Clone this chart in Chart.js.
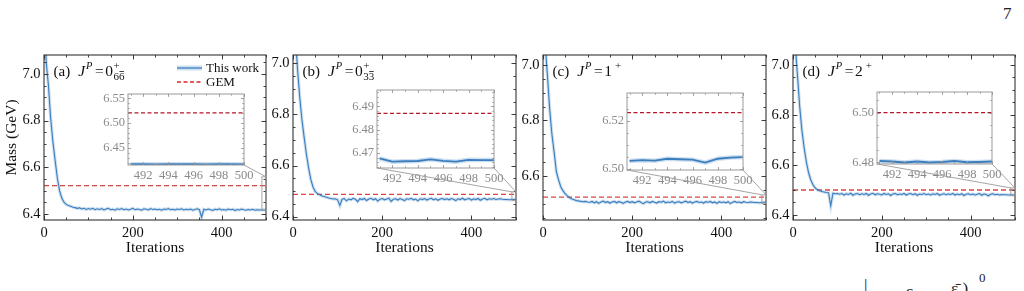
<!DOCTYPE html>
<html>
<head>
<meta charset="utf-8">
<title>Mass vs iterations</title>
<script src="https://cdn.jsdelivr.net/npm/chart.js@4.4.1/dist/chart.umd.min.js"></script>
<style>
  html, body { margin: 0; padding: 0; background: #fff; }
  body { width: 1024px; height: 291px; position: relative; overflow: hidden; font-family: "Liberation Serif", serif; color: #222; }
  canvas { position: absolute; }
  .pg { position: absolute; left: 1003px; top: 4px; font-size: 17px; }
  .tail { position: absolute; font-size: 17px; color: #222; }
</style>
</head>
<body>
<div class="pg">7</div>
<div class="tail" style="left:864px;top:276px">|</div>
<div class="tail" style="left:906px;top:282px">ε</div>
<div class="tail" style="left:951px;top:279px">ε̄ )</div>
<div class="tail" style="left:979px;top:270px;font-size:13px">0</div>
<script>
// iterations sampled every 5 steps
const iterations = [0, 5, 10, 15, 20, 25, 30, 35, 40, 45, 50, 55, 60, 65, 70, 75, 80, 85, 90, 95, 100,
  105, 110, 115, 120, 125, 130, 135, 140, 145, 150, 155, 160, 165, 170, 175, 180, 185, 190, 195, 200,
  205, 210, 215, 220, 225, 230, 235, 240, 245, 250, 255, 260, 265, 270, 275, 280, 285, 290, 295, 300,
  305, 310, 315, 320, 325, 330, 335, 340, 345, 350, 355, 360, 365, 370, 375, 380, 385, 390, 395, 400,
  405, 410, 415, 420, 425, 430, 435, 440, 445, 450, 455, 460, 465, 470, 475, 480, 485, 490, 495, 500];

const massA = [7.30, 7.05, 6.95, 6.81, 6.71, 6.63, 6.555, 6.50, 6.468, 6.450, 6.441, 6.436, 6.433, 6.429, 6.427, 6.424, 6.426, 6.421, 6.424, 6.419, 6.423,
  6.420, 6.424, 6.418, 6.422, 6.419, 6.423, 6.417, 6.421, 6.424, 6.418,
  6.420, 6.416, 6.422, 6.419, 6.423, 6.418, 6.421, 6.417, 6.420, 6.424,
  6.418, 6.421, 6.419, 6.416, 6.422, 6.420, 6.417, 6.423, 6.419, 6.421,
  6.418, 6.420, 6.416, 6.421, 6.419, 6.423, 6.418, 6.420, 6.417, 6.421,
  6.419, 6.422, 6.417, 6.420, 6.418, 6.421, 6.416, 6.419, 6.422, 6.418,
  6.386, 6.420, 6.417, 6.421, 6.418, 6.415, 6.420, 6.418, 6.422, 6.417,
  6.419, 6.416, 6.421, 6.418, 6.420, 6.415, 6.419, 6.417, 6.421, 6.418,
  6.416, 6.419, 6.417, 6.420, 6.416, 6.418, 6.417, 6.417, 6.417, 6.417];

const massB = [7.40, 7.12, 6.98, 6.87, 6.78, 6.71, 6.645, 6.59, 6.545, 6.515, 6.498, 6.490, 6.486, 6.481, 6.479, 6.476, 6.473, 6.471, 6.469, 6.470, 6.466,
  6.444, 6.468, 6.471, 6.462, 6.469, 6.466, 6.472, 6.468, 6.459, 6.470,
  6.467, 6.471, 6.463, 6.469, 6.472, 6.466, 6.470, 6.461, 6.468, 6.471,
  6.466, 6.469, 6.472, 6.460, 6.468, 6.470, 6.465, 6.471, 6.467, 6.463,
  6.470, 6.468, 6.472, 6.466, 6.469, 6.462, 6.470, 6.467, 6.471, 6.465,
  6.469, 6.472, 6.466, 6.470, 6.464, 6.469, 6.471, 6.467, 6.470, 6.466,
  6.471, 6.468, 6.463, 6.470, 6.467, 6.472, 6.466, 6.469, 6.471, 6.465,
  6.470, 6.467, 6.471, 6.464, 6.469, 6.472, 6.466, 6.470, 6.468, 6.471,
  6.467, 6.469, 6.470, 6.468, 6.467, 6.467, 6.466, 6.467, 6.467, 6.467];

const massC = [7.30, 7.07, 6.96, 6.84, 6.75, 6.685, 6.615, 6.585, 6.56, 6.546, 6.535, 6.527, 6.521, 6.517, 6.514, 6.511, 6.510, 6.508, 6.507, 6.508, 6.506,
  6.505, 6.508, 6.503, 6.507, 6.501, 6.506, 6.509, 6.504, 6.507, 6.502,
  6.506, 6.508, 6.503, 6.507, 6.505, 6.501, 6.506, 6.508, 6.504, 6.507,
  6.503, 6.506, 6.509, 6.504, 6.500, 6.506, 6.507, 6.503, 6.508, 6.505,
  6.502, 6.507, 6.505, 6.509, 6.503, 6.506, 6.504, 6.508, 6.502, 6.506,
  6.507, 6.503, 6.506, 6.509, 6.504, 6.507, 6.502, 6.506, 6.508, 6.504,
  6.506, 6.502, 6.507, 6.505, 6.508, 6.503, 6.506, 6.501, 6.507, 6.504,
  6.506, 6.503, 6.507, 6.500, 6.505, 6.508, 6.504, 6.506, 6.503, 6.507,
  6.505, 6.504, 6.506, 6.505, 6.504, 6.504, 6.503, 6.504, 6.505, 6.505];

const massD = [7.32, 7.08, 6.96, 6.835, 6.74, 6.67, 6.613, 6.57, 6.54, 6.521, 6.508, 6.501, 6.497, 6.494, 6.492, 6.490, 6.489, 6.437, 6.487, 6.485, 6.486,
  6.483, 6.486, 6.480, 6.485, 6.482, 6.487, 6.479, 6.484, 6.486, 6.481,
  6.485, 6.482, 6.486, 6.479, 6.484, 6.487, 6.481, 6.485, 6.483, 6.480,
  6.486, 6.482, 6.485, 6.478, 6.484, 6.486, 6.481, 6.484, 6.482, 6.486,
  6.480, 6.484, 6.486, 6.481, 6.485, 6.479, 6.484, 6.482, 6.486, 6.481,
  6.484, 6.480, 6.485, 6.482, 6.486, 6.479, 6.483, 6.485, 6.481, 6.484,
  6.482, 6.486, 6.480, 6.484, 6.481, 6.485, 6.478, 6.483, 6.485, 6.481,
  6.484, 6.480, 6.483, 6.486, 6.479, 6.484, 6.482, 6.477, 6.483, 6.485,
  6.481, 6.483, 6.480, 6.482, 6.481, 6.481, 6.480, 6.481, 6.480, 6.480];

const gemMass = [6.521, 6.487, 6.5235, 6.500];

// last ten iterations, shown in the insets
const zoomIters = [491, 492, 493, 494, 495, 496, 497, 498, 499, 500];
const zoomA = [6.4172, 6.4170, 6.4169, 6.4170, 6.4171, 6.4170, 6.4169, 6.4170, 6.4170, 6.4169];
const zoomB = [6.4676, 6.4662, 6.4664, 6.4665, 6.4672, 6.4666, 6.4662, 6.4670, 6.4669, 6.4669];
const zoomC = [6.5033, 6.5036, 6.5034, 6.5042, 6.5040, 6.5038, 6.5026, 6.5042, 6.5047, 6.5049];
const zoomD = [6.4805, 6.4803, 6.4799, 6.4803, 6.4799, 6.4801, 6.4805, 6.4800, 6.4801, 6.4803];

const mainXTicks = [0, 200, 400];
const mainYTicks = [6.4, 6.6, 6.8, 7.0];
const zoomXTicks = [492, 494, 496, 498, 500];
const zoomXRange = [490.8, 500];
const zoomYTicksA = [6.45, 6.50, 6.55];
const zoomYTicksB = [6.47, 6.48, 6.49];
const zoomYTicksC = [6.50, 6.52];
const zoomYTicksD = [6.48, 6.50];

const SERIF = "'Liberation Serif', 'Times New Roman', serif";
const BLUE = "#3a7ebf", BAND = "rgba(58,126,191,0.25)";
Chart.defaults.font.family = SERIF;

const panels = [
  { tag: "(a)", base: "0", sub: "66", box: [44, 55, 266, 220], yw: 44, yr: [6.374, 7.081], mass: massA, gem: gemMass[0], yTitle: true, legend: true,
    inset: { box: [128, 94, 244, 165], yr: [6.4155, 6.559], ticks: zoomYTicksA, minor: 0.01, data: zoomA, links: [false, true] } },
  { tag: "(b)", base: "0", sub: "33", box: [293, 55, 516, 220], yw: 24, yr: [6.387, 7.032], mass: massB, gem: gemMass[1],
    inset: { box: [377, 90, 494, 168], yr: [6.4635, 6.497], ticks: zoomYTicksB, minor: 0.002, data: zoomB, links: [true, true] } },
  { tag: "(c)", base: "1", box: [543, 55, 766, 220], yw: 24, yr: [6.441, 7.036], mass: massC, gem: gemMass[2],
    inset: { box: [627, 93, 743, 170], yr: [6.4995, 6.5317], ticks: zoomYTicksC, minor: 0.005, data: zoomC, links: [true, true] } },
  { tag: "(d)", base: "2", box: [793, 55, 1015, 220], yw: 24, yr: [6.38, 7.04], mass: massD, gem: gemMass[3],
    inset: { box: [877, 92, 992, 164], yr: [6.4793, 6.5083], ticks: zoomYTicksD, minor: 0.005, data: zoomD, links: [true, true] } },
];

function addCanvas(left, top, w, h) {
  const cv = document.createElement("canvas");
  cv.width = w; cv.height = h;
  cv.style.left = left + "px"; cv.style.top = top + "px";
  cv.style.width = w + "px"; cv.style.height = h + "px";
  document.body.appendChild(cv);
  return cv;
}

const fixTicks = (vals) => (s) => { s.ticks = vals.filter((v) => v >= s.min - 1e-9 && v <= s.max + 1e-9).map((v) => ({ value: v })); };

const common = {
  responsive: false, animation: false, devicePixelRatio: 1, events: [],
  plugins: { legend: { display: false }, tooltip: { enabled: false } },
  elements: { point: { radius: 0 }, line: { tension: 0, borderCapStyle: "butt" } },
};

// spines + inward ticks on all four sides
function frame(cfg) {
  return {
    id: "frame",
    beforeDatasetsDraw(chart) {
      if (!cfg.bg) return;
      const a = chart.chartArea;
      chart.ctx.fillStyle = "#fff";
      chart.ctx.fillRect(a.left, a.top, a.width, a.height);
    },
    afterDatasetsDraw(chart) {
      const { ctx, chartArea: a, scales: { x, y } } = chart;
      ctx.save();
      ctx.strokeStyle = cfg.color;
      ctx.lineWidth = cfg.lw;
      ctx.strokeRect(a.left, a.top, a.width, a.height);
      ctx.lineWidth = cfg.lw * 0.85;
      ctx.beginPath();
      const mark = (axis, v, len) => {
        const p = Math.round(axis.getPixelForValue(v)) + 0.5;
        if (axis === x) { ctx.moveTo(p, a.bottom); ctx.lineTo(p, a.bottom - len); ctx.moveTo(p, a.top); ctx.lineTo(p, a.top + len); }
        else { ctx.moveTo(a.left, p); ctx.lineTo(a.left + len, p); ctx.moveTo(a.right, p); ctx.lineTo(a.right - len, p); }
      };
      for (const [axis, step] of [[x, cfg.xMinor], [y, cfg.yMinor]]) {
        for (let k = Math.ceil(axis.min / step - 1e-6); k * step <= axis.max + 1e-9; k++) mark(axis, k * step, cfg.minorLen);
      }
      for (const t of x.ticks) mark(x, t.value, cfg.majorLen);
      for (const t of y.ticks) mark(y, t.value, cfg.majorLen);
      ctx.stroke();
      ctx.restore();
    },
  };
}

// panel label, e.g. (a)  J^P = 0^+_{66bar}
function tag(p) {
  return {
    id: "tag",
    afterDraw(chart) {
      const { ctx, chartArea: a } = chart;
      let x = a.left + 9.5;
      const y = a.top + 21;
      ctx.save();
      ctx.fillStyle = "#111";
      ctx.textAlign = "left";
      ctx.textBaseline = "alphabetic";
      const put = (s, font, dx, dy) => { ctx.font = font; x += dx; ctx.fillText(s, x, y + dy); const w = ctx.measureText(s).width; x += w; return w; };
      put(p.tag, "15px " + SERIF, 0, 0);
      put("J", "italic 15.5px " + SERIF, 8, 0);
      put("P", "italic 10.5px " + SERIF, 1, -7);
      put("=", "15.5px " + SERIF, 2.5, 0);
      put(p.base, "15.5px " + SERIF, 1.5, 0);
      const sx = x;
      if (p.sub) {
        put("+", "11px " + SERIF, 0.5, -7);
        x = sx;
        put(p.sub[0], "11px " + SERIF, 0.5, 4);
        const bx = x, bw = put(p.sub[1], "11px " + SERIF, 0, 4);
        ctx.strokeStyle = "#111"; ctx.lineWidth = 0.8;
        ctx.beginPath(); ctx.moveTo(bx + 0.5, y - 4.5); ctx.lineTo(bx + bw - 0.5, y - 4.5); ctx.stroke();
      } else {
        put("+", "11px " + SERIF, 3, -7);
      }
      ctx.restore();
    },
  };
}

const keyBox = {
  id: "keyBox",
  afterDraw(chart) {
    const { ctx, chartArea: a } = chart;
    const x0 = a.right - 89, x1 = a.right - 64, y1 = a.top + 13, y2 = a.top + 27;
    ctx.save();
    ctx.lineCap = "butt";
    ctx.strokeStyle = BAND; ctx.lineWidth = 5;
    ctx.beginPath(); ctx.moveTo(x0, y1); ctx.lineTo(x1, y1); ctx.stroke();
    ctx.strokeStyle = BLUE; ctx.lineWidth = 1.3;
    ctx.beginPath(); ctx.moveTo(x0, y1); ctx.lineTo(x1, y1); ctx.stroke();
    ctx.strokeStyle = "#d62728"; ctx.setLineDash([4, 2.5]);
    ctx.beginPath(); ctx.moveTo(x0, y2); ctx.lineTo(x1, y2); ctx.stroke();
    ctx.fillStyle = "#111"; ctx.font = "13px " + SERIF; ctx.textBaseline = "middle";
    ctx.fillText("This work", x1 + 4, y1 + 0.5);
    ctx.fillText("GEM", x1 + 4, y2 + 0.5);
    ctx.restore();
  },
};

function mainChart(p) {
  const [L, T, R, B] = p.box;
  const left = L - p.yw, top = 40, w = R - left + 6, h = 262 - top;
  p.left = left; p.top = top;
  const pts = iterations.map((x, k) => ({ x, y: p.mass[k] }));
  const tickFont = { size: 14.5 };
  const plugins = [frame({ color: "#333", lw: 1.1, majorLen: 4.5, minorLen: 2.5, xMinor: 50, yMinor: 0.05 }), tag(p)];
  if (p.legend) plugins.push(keyBox);
  return new Chart(addCanvas(left, top, w, h), {
    type: "line",
    data: {
      datasets: [
        { data: pts, borderColor: BLUE, borderWidth: 1.1 },
        { data: pts, borderColor: BAND, borderWidth: 3.2 },
        { data: [{ x: 0, y: p.gem }, { x: 500, y: p.gem }], borderColor: "rgba(214,48,48,0.9)", borderDash: [5, 3], borderWidth: 1.3 },
      ],
    },
    options: {
      ...common,
      layout: { padding: { left: 0, top: T - top, right: w - (R - left), bottom: 0 } },
      scales: {
        x: {
          type: "linear", min: 0, max: 500,
          afterFit: (s) => { s.height = h - (B - top); s.paddingLeft = 0; s.paddingRight = 0; },
          afterBuildTicks: fixTicks(mainXTicks),
          grid: { display: false, drawTicks: false }, border: { display: false },
          ticks: { padding: 4, color: "#111", font: tickFont, maxRotation: 0, callback: (v) => String(v) },
          title: { display: true, text: "Iterations", color: "#111", font: { size: 15.5 }, padding: { top: 0, bottom: 4.5 } },
        },
        y: {
          min: p.yr[0], max: p.yr[1],
          afterFit: (s) => { s.width = p.yw; s.paddingTop = 0; s.paddingBottom = 0; },
          afterBuildTicks: fixTicks(mainYTicks),
          grid: { display: false, drawTicks: false }, border: { display: false },
          ticks: { padding: 3.5, color: "#111", font: tickFont, callback: (v) => v.toFixed(1) },
          title: { display: !!p.yTitle, text: "Mass (GeV)", color: "#111", font: { size: 15.5 }, padding: { top: 2.7, bottom: 0 } },
        },
      },
    },
    plugins,
  });
}

function zoomChart(p) {
  const z = p.inset;
  const [L, T, R, B] = z.box;
  const left = L - 34, top = T - 5, w = R - left + 13, h = B - top + 21;
  z.left = left; z.top = top;
  const pts = zoomIters.map((x, k) => ({ x, y: z.data[k] }));
  const tickFont = { size: 12.5 };
  return new Chart(addCanvas(left, top, w, h), {
    type: "line",
    data: {
      datasets: [
        { data: pts, borderColor: BLUE, borderWidth: 1.8 },
        { data: pts, borderColor: BAND, borderWidth: 4.5 },
        { data: zoomXRange.map((x) => ({ x, y: p.gem })), borderColor: "#b2182b", borderDash: [4, 2.5], borderWidth: 1.2 },
      ],
    },
    options: {
      ...common,
      layout: { padding: { left: 0, top: T - top, right: w - (R - left), bottom: 0 } },
      scales: {
        x: {
          type: "linear", min: zoomXRange[0], max: zoomXRange[1],
          afterFit: (s) => { s.height = h - (B - top); s.paddingLeft = 0; s.paddingRight = 0; },
          afterBuildTicks: fixTicks(zoomXTicks),
          grid: { display: false, drawTicks: false }, border: { display: false },
          ticks: { padding: 3, color: "#8a8a8a", font: tickFont, maxRotation: 0, callback: (v) => String(v) },
        },
        y: {
          min: z.yr[0], max: z.yr[1],
          afterFit: (s) => { s.width = L - left; s.paddingTop = 0; s.paddingBottom = 0; },
          afterBuildTicks: fixTicks(z.ticks),
          grid: { display: false, drawTicks: false }, border: { display: false },
          ticks: { padding: 3, color: "#8a8a8a", font: tickFont, callback: (v) => v.toFixed(2) },
        },
      },
    },
    plugins: [frame({ color: "#9a9a9a", lw: 1, majorLen: 3, minorLen: 1.8, xMinor: 1, yMinor: z.minor, bg: true })],
  });
}

const charts = panels.map((p) => [mainChart(p), zoomChart(p)]);

// zoom box on each main panel and the lines joining it to its inset
const ov = addCanvas(0, 0, 1024, 291).getContext("2d");
ov.strokeStyle = "#9a9a9a";
ov.lineWidth = 0.9;
panels.forEach((p, i) => {
  const [m, n] = charts[i];
  const rx0 = p.left + m.scales.x.getPixelForValue(n.scales.x.min);
  const rx1 = p.left + m.scales.x.getPixelForValue(n.scales.x.max);
  const ry0 = p.top + m.scales.y.getPixelForValue(n.scales.y.max);
  const ry1 = p.top + m.scales.y.getPixelForValue(n.scales.y.min);
  ov.strokeRect(rx0, ry0, rx1 - rx0, ry1 - ry0);
  const a = n.chartArea;
  const ib = p.inset.top + a.bottom;
  ov.beginPath();
  if (p.inset.links[0]) { ov.moveTo(p.inset.left + a.left, ib); ov.lineTo(rx0, ry0); }
  if (p.inset.links[1]) { ov.moveTo(p.inset.left + a.right, ib); ov.lineTo(rx1, ry0); }
  ov.stroke();
});
</script>
</body>
</html>
